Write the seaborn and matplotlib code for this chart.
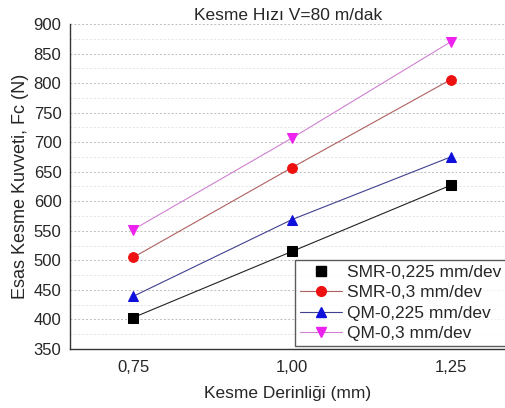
import numpy as np
import pandas as pd
import matplotlib
matplotlib.use('Agg')
import matplotlib.pyplot as plt
import seaborn as sns
from matplotlib.lines import Line2D
from matplotlib.ticker import MultipleLocator, FixedLocator

sns.set_style('white')
plt.rcParams['font.family'] = ['Liberation Sans', 'DejaVu Sans']

# veriler
depth = [0.75, 1.00, 1.25]
smr_0225 = [403, 515, 627]
smr_03 = [505, 657, 806]
qm_0225 = [439, 569, 675]
qm_03 = [552, 707, 870]

series_names = ['SMR-0,225 mm/dev', 'SMR-0,3 mm/dev', 'QM-0,225 mm/dev', 'QM-0,3 mm/dev']
series_vals = [smr_0225, smr_03, qm_0225, qm_03]
markers = ['s', 'o', '^', 'v']
marker_colors = ['black', '#ee1111', '#1010dd', '#ee22ee']
line_colors = ['#222222', '#b06060', '#404090', '#d080d0']

fig = plt.figure(figsize=(5.06, 4.08), dpi=100)
ax = fig.add_axes([0.138, 0.145, 0.862, 0.796])

for name, vals, m, mc, lc in zip(series_names, series_vals, markers, marker_colors, line_colors):
    df = pd.DataFrame({'x': depth, 'y': vals})
    sns.lineplot(data=df, x='x', y='y', ax=ax, color=lc, linewidth=0.8,
                 marker=m, markersize=7, markerfacecolor=mc, markeredgecolor=mc)

ax.set_xlim(0.65, 1.337)
ax.set_ylim(350, 900)
ax.xaxis.set_major_locator(FixedLocator(depth))
ax.xaxis.set_minor_locator(FixedLocator([0.875, 1.125]))
ax.set_xticklabels(['0,75', '1,00', '1,25'])
ax.yaxis.set_major_locator(MultipleLocator(50))
ax.yaxis.set_minor_locator(MultipleLocator(25))

ax.grid(True, which='major', axis='y', linestyle=(0, (2, 2)), color='#bbbbbb', linewidth=0.7)
ax.grid(True, which='minor', axis='y', linestyle=(0, (2, 2)), color='#e4e4e4', linewidth=0.7)
ax.set_axisbelow(True)

for s in ['top', 'right']:
    ax.spines[s].set_visible(False)
for s in ['left', 'bottom']:
    ax.spines[s].set_color('#333333')
    ax.spines[s].set_linewidth(1.0)

ax.tick_params(axis='both', which='major', direction='out', length=4, width=1, labelsize=12, color='#333333')
ax.tick_params(axis='both', which='minor', direction='out', length=3, width=1, color='#333333')
ax.tick_params(axis='x', pad=4)
ax.tick_params(axis='y', pad=2)

ax.set_title('Kesme Hızı V=80 m/dak', fontsize=12.5, pad=3)
ax.set_xlabel('Kesme Derinliği (mm)', fontsize=12.5, labelpad=8)
ax.set_ylabel('Esas Kesme Kuvveti, Fc (N)', fontsize=13, labelpad=3)

handles = []
for i, (m, mc, lc) in enumerate(zip(markers, marker_colors, line_colors)):
    handles.append(Line2D([], [], color=lc, linewidth=0.8 if i else 0, marker=m,
                          markersize=7, markerfacecolor=mc, markeredgecolor=mc))
leg = ax.legend(handles, series_names, loc='lower left', bbox_to_anchor=(0.516, 0.008),
                fontsize=12.5, frameon=True, fancybox=False, handlelength=2.4,
                handletextpad=0.3, labelspacing=0.3, borderpad=0.3, borderaxespad=0)
leg.get_frame().set_edgecolor('#333333')
leg.get_frame().set_linewidth(1.0)

fig.savefig('out.png', dpi=100)
